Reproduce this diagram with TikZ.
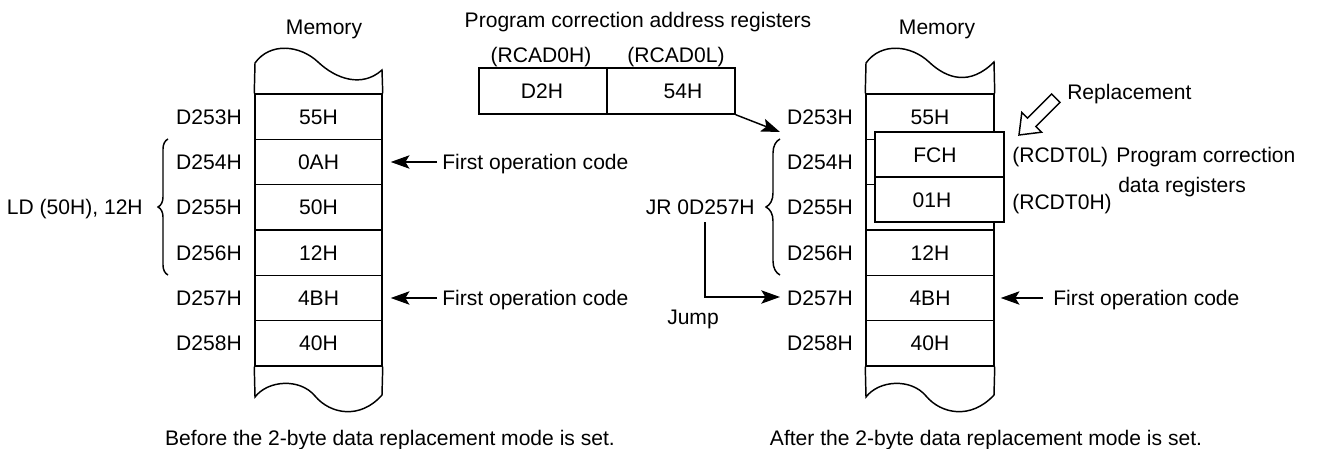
\documentclass[tikz,border=0pt]{standalone}
\usepackage{fontspec}
\setmainfont{Liberation Sans}
\usetikzlibrary{arrows.meta,decorations.pathreplacing}
\begin{document}
\begin{tikzpicture}[x=0.75pt,y=-0.75pt,
  txt/.style={inner sep=0pt, font=\fontsize{15.8pt}{19pt}\selectfont, text height=11.3pt, text depth=0pt},
  ln/.style={line width=1.1pt},
  arr/.style={line width=1.1pt, -{Stealth[length=14pt,width=10pt,inset=3pt]}},
  brc/.style={line width=1.1pt, decorate, decoration={brace, amplitude=#1}},
  cellL/.style={txt, draw, line width=1.1pt, minimum width=95.25pt, minimum height=34pt},
  cellR/.style={txt, draw, line width=1.1pt, minimum width=96pt, minimum height=34pt},
  reg/.style={draw, fill=white, line width=1.1pt, minimum width=96.75pt, minimum height=33.75pt, inner sep=0pt},
  areg/.style={draw, line width=1.1pt, minimum width=96pt, minimum height=34.5pt, inner sep=0pt}
]
\useasboundingbox (0,0) rectangle (1317,449);

% ---------- left memory ----------
\node[txt] (LM) at (324,27) {Memory};
\node[cellL] (Lc1) at (318.5,116.7) {55H};
\node[cellL] (Lc2) at (318.5,162.0) {0AH};
\node[cellL] (Lc3) at (318.5,207.3) {50H};
\node[cellL] (Lc4) at (318.5,252.7) {12H};
\node[cellL] (Lc5) at (318.5,298.0) {4BH};
\node[cellL] (Lc6) at (318.5,343.3) {40H};
\draw[ln] (Lc1.north west) -- (255,63) .. controls (270,42) and (300,45) .. (318,62)
  .. controls (336,79) and (362,88) .. (382,70) -- (Lc1.north east);
\draw[ln] (Lc6.south west) -- (255,397) .. controls (268,380) and (300,378) .. (315,396)
  .. controls (330,414) and (360,420) .. (382,395) -- (Lc6.south east);

\node[txt, anchor=east] (La1) at (242,116.7) {D253H};
\node[txt, anchor=east] (La2) at (242,162.0) {D254H};
\node[txt, anchor=east] (La3) at (242,207.3) {D255H};
\node[txt, anchor=east] (La4) at (242,252.7) {D256H};
\node[txt, anchor=east] (La5) at (242,298.0) {D257H};
\node[txt, anchor=east] (La6) at (242,343.3) {D258H};

\draw[brc=7.5pt] (168,275) -- (168,139);
\node[txt, anchor=east] (LD) at (143,207) {LD (50H), 12H};

\node[txt, anchor=west] (F1) at (442,162) {First operation code};
\node[txt, anchor=west] (F2) at (442,298) {First operation code};
\draw[arr] ([xshift=-3.75pt]F1.west) -- ([xshift=6pt]Lc2.east);
\draw[arr] ([xshift=-3.75pt]F2.west) -- ([xshift=6pt]Lc5.east);

\node[txt] (C1) at (390,438) {Before the 2-byte data replacement mode is set.};

% ---------- address registers ----------
\node[txt] (PT) at (638,20) {Program correction address registers};
\node[txt] (AH) at (541,55) {(RCAD0H)};
\node[txt] (AL) at (676,55) {(RCAD0L)};
\node[areg] (A1) at (543,91) {};
\node[areg] (A2) at (671,91) {};
\node[txt] (A1t) at (542,91) {D2H};
\node[txt] (A2t) at (683,91) {54H};
\coordinate (p253) at (780,132);
\draw[arr] (A2.south east) -- (p253);

% ---------- right memory ----------
\node[txt] (RM) at (937,27) {Memory};
\node[cellR] (Rc1) at (930,116.7) {55H};
\node[cellR] (Rc2) at (930,162.0) {};
\node[cellR] (Rc3) at (930,207.3) {};
\node[cellR] (Rc4) at (930,252.7) {12H};
\node[cellR] (Rc5) at (930,298.0) {4BH};
\node[cellR] (Rc6) at (930,343.3) {40H};
\draw[ln] (Rc1.north west) -- (866,63) .. controls (881,42) and (911,45) .. (929,62)
  .. controls (947,79) and (970,86) .. (994,62) -- (Rc1.north east);
\draw[ln] (Rc6.south west) -- (866,397) .. controls (879,380) and (911,378) .. (926,396)
  .. controls (941,414) and (971,420) .. (994,395) -- (Rc6.south east);

\node[reg] (G1) at (939.5,154.5) {};
\node[reg] (G2) at (939.5,199.5) {};
\node[txt] (G1t) at (935,155) {FCH};
\node[txt] (G2t) at (932,200) {01H};

\node[txt, anchor=east] (Ra1) at (853,116.7) {D253H};
\node[txt, anchor=east] (Ra2) at (853,162.0) {D254H};
\node[txt, anchor=east] (Ra3) at (853,207.3) {D255H};
\node[txt, anchor=east] (Ra4) at (853,252.7) {D256H};
\node[txt, anchor=east] (Ra5) at (853,298.0) {D257H};
\node[txt, anchor=east] (Ra6) at (853,343.3) {D258H};

\draw[brc=10.5pt] (780,275) -- (780,139);
\node[txt, anchor=east] (JR) at (755,207) {JR 0D257H};

\coordinate (j0) at (705,222);
\coordinate (j1) at (780,297);
\draw[arr] (j0) |- (j1);
\node[txt] (JP) at (693,317) {Jump};

\node[txt, anchor=west] (DL) at (1012,155) {(RCDT0L)};
\node[txt, anchor=west] (DH) at (1012,202) {(RCDT0H)};
\node[txt, anchor=west] (PC1) at (1116,155) {Program correction};
\node[txt, anchor=west] (PC2) at (1118,185) {data registers};

\node[txt, anchor=west] (RP) at (1067,92) {Replacement};
\draw[line width=1.1pt, line join=miter] (1019,135) -- (1041.6,132.2) -- (1035.9,126.5) -- (1060,102.4)
  -- (1051.6,94) -- (1027.5,118.1) -- (1021.8,112.4) -- cycle;

\node[txt, anchor=west] (F3) at (1053,298) {First operation code};
\draw[arr] ([xshift=-7.5pt]F3.west) -- ([xshift=4.5pt]Rc5.east);

\node[txt] (C2) at (986,438) {After the 2-byte data replacement mode is set.};
\end{tikzpicture}
\end{document}
